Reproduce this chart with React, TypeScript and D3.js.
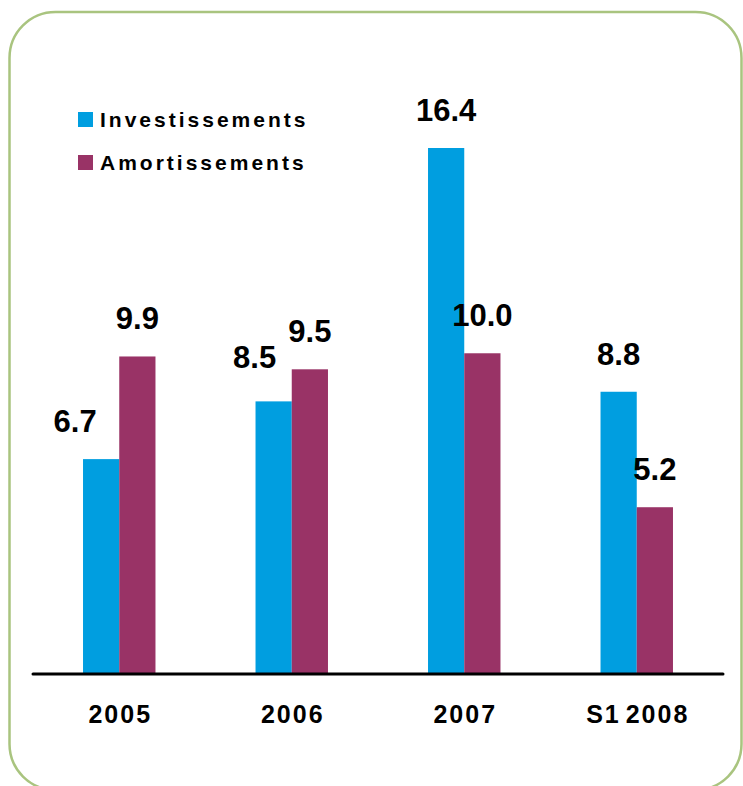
import React from 'react'
import { scaleBand, scaleLinear } from 'd3'

const categories = ['2005', '2006', '2007', 'S1 2008']
const investissements = [6.7, 8.5, 16.4, 8.8]
const amortissements = [9.9, 9.5, 10.0, 5.2]
const seriesNames = ['Investissements', 'Amortissements']
const seriesColors = ['#009ee0', '#993366']

// small nudges the original applies to a couple of value labels
const labelNudgeX = [[-26, 0], [-19, 0], [0, 0], [0, 0]]
const labelNudgeY = [[0, 0], [-6, 0], [0, 0], [0, 0]]

const W = 743, H = 786
const baseY = 674

export default function App() {
    const x = scaleBand().domain(categories).range([33, 723]).paddingInner(0.58).paddingOuter(0.29)
    const sub = scaleBand().domain(seriesNames).range([0, x.bandwidth()])
    const y = scaleLinear().domain([0, 16.4]).range([baseY, 148])
    const series = [investissements, amortissements]
    const font = '"Liberation Sans", Arial, sans-serif'

    return (
        <div style={{ position: 'absolute', left: 0, top: 0 }}>
            <svg width={W} height={H} style={{ display: 'block' }}>
                <rect x={9.5} y={12} width={732} height={778} rx={46} ry={46}
                    fill="#fff" stroke="#a9c47f" strokeWidth={2.5} />
                {series.map((vals, s) => vals.map((v, i) => (
                    <rect key={`b${s}-${i}`}
                        x={(x(categories[i]) ?? 0) + (sub(seriesNames[s]) ?? 0)}
                        y={y(v)} width={sub.bandwidth()} height={baseY - y(v)}
                        fill={seriesColors[s]} />
                )))}
                {series.map((vals, s) => vals.map((v, i) => (
                    <text key={`l${s}-${i}`}
                        x={(x(categories[i]) ?? 0) + (sub(seriesNames[s]) ?? 0) + sub.bandwidth() / 2 + labelNudgeX[i][s]}
                        y={y(v) - 27 + labelNudgeY[i][s]}
                        textAnchor="middle" fontFamily={font} fontWeight="bold" fontSize={31} fill="#000">
                        {v.toFixed(1)}
                    </text>
                )))}
                <line x1={33} x2={723} y1={baseY} y2={baseY} stroke="#000" strokeWidth={3} strokeLinecap="round" />
                {categories.map((c) => (
                    <text key={c} x={(x(c) ?? 0) + x.bandwidth() / 2 + 1} y={723}
                        textAnchor="middle" fontFamily={font} fontWeight="bold" fontSize={25}
                        letterSpacing={2} wordSpacing={-4} fill="#000">{c}</text>
                ))}
                {seriesNames.map((n, s) => (
                    <g key={n} transform={`translate(78, ${112 + s * 43})`}>
                        <rect x={0} y={0} width={15} height={15} fill={seriesColors[s]} />
                        <text x={22} y={15} fontFamily={font} fontWeight="bold" fontSize={21}
                            letterSpacing={3} fill="#000">{n}</text>
                    </g>
                ))}
            </svg>
        </div>
    )
}
